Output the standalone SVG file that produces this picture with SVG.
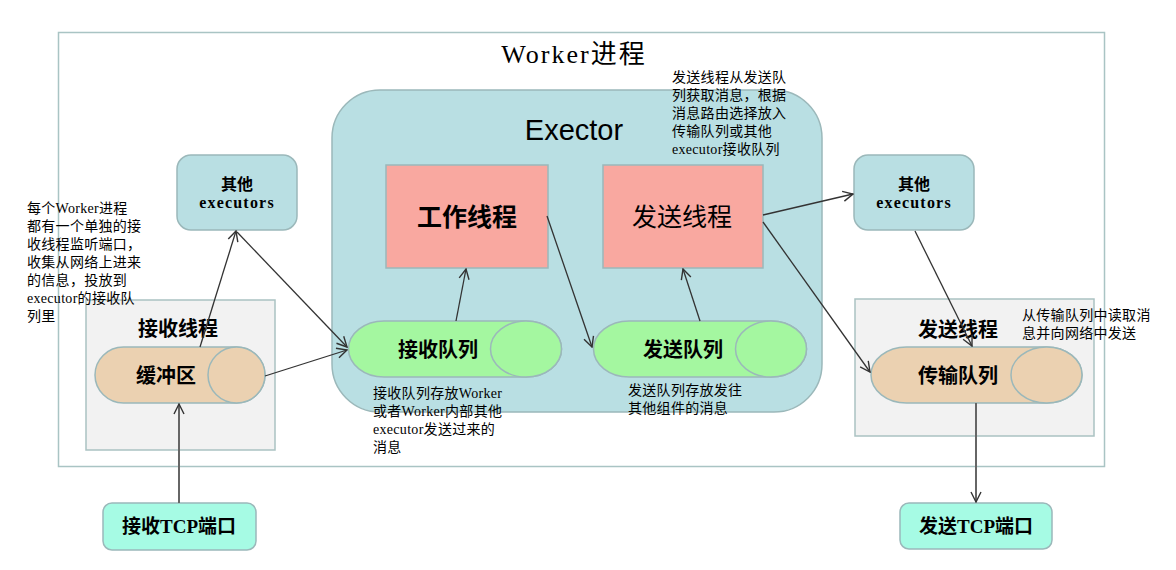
<svg xmlns="http://www.w3.org/2000/svg" width="1176" height="570" viewBox="0 0 1176 570">
<style>
.cjk{font-family:"Liberation Serif","Noto Sans CJK SC",serif;fill:#000}
.note{font-size:14px;letter-spacing:0.3px}
.lbl{font-weight:bold;font-size:20px;text-anchor:middle}
.box{stroke:#9bb8ba;stroke-width:1.5}
.conn{stroke:#333;stroke-width:1.3;fill:none;marker-end:url(#arr)}
.conn2{stroke:#666;stroke-width:2;fill:none;marker-end:url(#arr)}
</style>
<defs>
<marker id="arr" viewBox="0 0 12 12" refX="11" refY="6" markerWidth="12" markerHeight="12" markerUnits="userSpaceOnUse" orient="auto">
<path d="M1,1 L11,6 L1,11" fill="none" stroke="#333" stroke-width="1.4"/>
</marker>
</defs>
<rect width="1176" height="570" fill="#fff"/>
<g id="worker">
<rect x="58.5" y="32.5" width="1046" height="434" fill="#fff" stroke="#a9c4c4" stroke-width="1.5"/>
<text x="574" y="63" class="cjk" font-size="26" text-anchor="middle" letter-spacing="2">Worker进程</text>
</g>
<g id="exector">
<rect x="332" y="90" width="490" height="322" rx="48" fill="#b9dfe3" class="box"/>
<text x="574" y="140" font-family="Liberation Sans, Arial, sans-serif" font-size="29" text-anchor="middle">Exector</text>
</g>
<g id="work-thread">
<rect x="386" y="165" width="162" height="103" fill="#f9a8a0" class="box"/>
<text x="467" y="226" class="cjk" font-size="25" font-weight="bold" text-anchor="middle">工作线程</text>
</g>
<g id="send-thread">
<rect x="603" y="165" width="160" height="103" fill="#f9a8a0" class="box"/>
<text x="682" y="226" class="cjk" font-size="25" text-anchor="middle">发送线程</text>
</g>
<g id="recv-queue">
<path d="M384,321 H526 A35.5,28 0 0 1 526,377 H384 A35.5,28 0 0 1 384,321 Z" fill="#a4f7a0" class="box"/>
<ellipse cx="526" cy="349" rx="35.5" ry="28" fill="#a4f7a0" class="box"/>
<text x="438" y="357" class="cjk lbl">接收队列</text>
</g>
<g id="send-queue">
<path d="M629,321 H771 A35.5,28 0 0 1 771,377 H629 A35.5,28 0 0 1 629,321 Z" fill="#a4f7a0" class="box"/>
<ellipse cx="771" cy="349" rx="35.5" ry="28" fill="#a4f7a0" class="box"/>
<text x="683" y="357" class="cjk lbl">发送队列</text>
</g>
<g id="recv-thread">
<rect x="86" y="300" width="189" height="150" fill="#f2f2f2" stroke="#aac2c2" stroke-width="1.5"/>
<text x="178" y="336" class="cjk lbl">接收线程</text>
</g>
<g id="buffer">
<path d="M123.5,347 H236.5 A28.5,28 0 0 1 236.5,403 H123.5 A28.5,28 0 0 1 123.5,347 Z" fill="#ebd1b1" class="box"/>
<ellipse cx="236.5" cy="375" rx="28.5" ry="28" fill="#ebd1b1" class="box"/>
<text x="166" y="383" class="cjk lbl">缓冲区</text>
</g>
<g id="send-thread-box">
<rect x="855" y="299" width="239" height="137" fill="#f2f2f2" stroke="#aac2c2" stroke-width="1.5"/>
<text x="958" y="337" class="cjk lbl">发送线程</text>
</g>
<g id="transfer-queue">
<path d="M906.5,347 H1046.5 A35.5,28 0 0 1 1046.5,403 H906.5 A35.5,28 0 0 1 906.5,347 Z" fill="#ebd1b1" class="box"/>
<ellipse cx="1046.5" cy="375" rx="35.5" ry="28" fill="#ebd1b1" class="box"/>
<text x="958" y="383" class="cjk lbl">传输队列</text>
</g>
<g id="other-left">
<rect x="177" y="155" width="120" height="75" rx="14" fill="#b9dfe3" class="box"/>
<text x="237" y="190" class="cjk" font-size="16" font-weight="bold" text-anchor="middle">其他</text>
<text x="237" y="208" class="cjk" font-size="16" font-weight="bold" text-anchor="middle" letter-spacing="1.2">executors</text>
</g>
<g id="other-right">
<rect x="854" y="155" width="120" height="75" rx="14" fill="#b9dfe3" class="box"/>
<text x="914" y="190" class="cjk" font-size="16" font-weight="bold" text-anchor="middle">其他</text>
<text x="914" y="208" class="cjk" font-size="16" font-weight="bold" text-anchor="middle" letter-spacing="1.2">executors</text>
</g>
<g id="recv-tcp">
<rect x="103" y="503" width="153" height="47" rx="9" fill="#a6fbe4" class="box"/>
<text x="179" y="533" class="cjk" font-size="19" font-weight="bold" text-anchor="middle">接收TCP端口</text>
</g>
<g id="send-tcp">
<rect x="900" y="503" width="152" height="46" rx="9" fill="#a6fbe4" class="box"/>
<text x="976" y="533" class="cjk" font-size="19" font-weight="bold" text-anchor="middle">发送TCP端口</text>
</g>
<g id="connectors">
<line x1="200" y1="347" x2="236" y2="231" class="conn"/>
<line x1="237" y1="232" x2="347" y2="347" class="conn"/>
<line x1="265" y1="376" x2="347" y2="350" class="conn"/>
<line x1="179" y1="503" x2="179" y2="404" class="conn2"/>
<line x1="456" y1="321" x2="466" y2="269" class="conn"/>
<line x1="547" y1="216" x2="592" y2="347" class="conn"/>
<line x1="700" y1="321" x2="683" y2="269" class="conn"/>
<line x1="763" y1="215" x2="853" y2="194" class="conn"/>
<line x1="763" y1="222" x2="870" y2="372" class="conn"/>
<line x1="915" y1="231" x2="972" y2="346" class="conn"/>
<line x1="976" y1="403" x2="976" y2="502" class="conn2"/>
</g>
<g id="notes" class="cjk note">
<text x="27" y="213">每个Worker进程</text>
<text x="27" y="231">都有一个单独的接</text>
<text x="27" y="249">收线程监听端口，</text>
<text x="27" y="267">收集从网络上进来</text>
<text x="27" y="285">的信息，投放到</text>
<text x="27" y="303">executor的接收队</text>
<text x="27" y="321">列里</text>
<text x="672" y="82">发送线程从发送队</text>
<text x="672" y="100">列获取消息，根据</text>
<text x="672" y="118">消息路由选择放入</text>
<text x="672" y="136">传输队列或其他</text>
<text x="672" y="154">executor接收队列</text>
<text x="373" y="398">接收队列存放Worker</text>
<text x="373" y="416">或者Worker内部其他</text>
<text x="373" y="434">executor发送过来的</text>
<text x="373" y="452">消息</text>
<text x="628" y="395">发送队列存放发往</text>
<text x="628" y="413">其他组件的消息</text>
<text x="1022" y="320">从传输队列中读取消</text>
<text x="1022" y="338">息并向网络中发送</text>
</g>
</svg>
